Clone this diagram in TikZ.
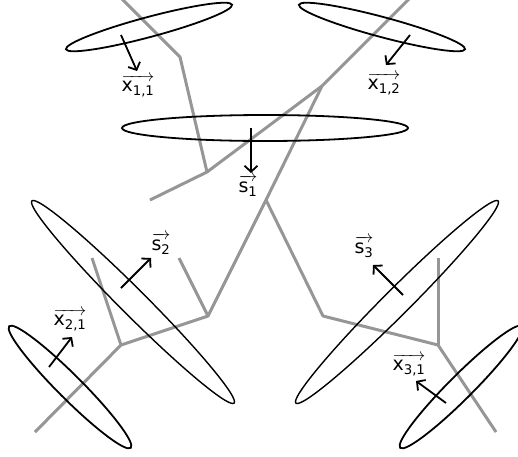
\documentclass[tikz,border=0pt]{standalone}
\usepackage{amsmath}
\usepackage{fontspec}
\setmainfont{DejaVu Sans}
\usetikzlibrary{arrows.meta}
\definecolor{treegray}{RGB}{150,150,150}
\tikzset{
  branch/.style={treegray, line width=3pt, line join=round},
  ell/.style={black, line width=1.8pt},
  ellthin/.style={black, line width=1.4pt},
  vecarrow/.style={line width=1.8pt, -{Straight Barb[length=6pt,width=13pt]}},
  veclabel/.style={inner sep=0pt, font=\fontsize{19}{22}\selectfont}
}
\newcommand{\vx}[1]{$\overrightarrow{\text{x}_{\text{#1}}}$}
\newcommand{\vs}[1]{$\overrightarrow{\text{s}_{\text{#1}}}$}
\begin{document}
\begin{tikzpicture}[x=1pt, y=-1pt]
    \useasboundingbox (0,0) rectangle (518,456);
    % Baum:
    \coordinate (root) at (266,200);
    \coordinate (a) at (322,86);
    \coordinate (a1) at (410,-2); % oben rechts
    \coordinate (b) at (207,172);
    \coordinate (b1) at (180,57);
    \coordinate (b2) at (121,-2); % oben links
    \coordinate (b3) at (150,200);
    \coordinate (c) at (208,316);
    \coordinate (c1) at (179,258);
    \coordinate (d) at (121,345);
    \coordinate (d1) at (92,258);
    \coordinate (d2) at (35,432);
    \coordinate (e) at (323,316);
    \coordinate (f) at (438,345);
    \coordinate (f1) at (438,258);
    \coordinate (f2) at (496,432);
    \draw[branch] (a1) -- (a) -- (root) -- (c) -- (d) -- (d2);
    \draw[branch] (a) -- (b) -- (b1) -- (b2);
    \draw[branch] (b) -- (b3);
    \draw[branch] (c1) -- (c);
    \draw[branch] (d1) -- (d);
    \draw[branch] (root) -- (e) -- (f) -- (f2);
    \draw[branch] (f1) -- (f);
    % Ellipsen:
    \draw[ell, shift={(149,27)}, rotate=15] (0,0) ellipse [x radius=86, y radius=10];
    \draw[ell, shift={(382,27)}, rotate=-15] (0,0) ellipse [x radius=86, y radius=10];
    \draw[ell] (265,128) ellipse [x radius=143, y radius=13];
    \draw[ellthin, shift={(133,302)}, rotate=-45] (0,0) ellipse [x radius=143, y radius=13];
    \draw[ellthin, shift={(397,302)}, rotate=45] (0,0) ellipse [x radius=143, y radius=13];
    \draw[ell, shift={(70,387)}, rotate=-45] (0,0) ellipse [x radius=86, y radius=12];
    \draw[ell, shift={(461,387)}, rotate=45] (0,0) ellipse [x radius=86, y radius=12];
    % Pfeile:
    \coordinate (x11s) at (121,35);  \coordinate (x11e) at (137,71);
    \coordinate (x12s) at (410,35);  \coordinate (x12e) at (386,65);
    \coordinate (s1s) at (251,128);  \coordinate (s1e) at (251,173);
    \coordinate (s2s) at (121,288);  \coordinate (s2e) at (151,258);
    \coordinate (x21s) at (49,367);  \coordinate (x21e) at (72,337);
    \coordinate (s3s) at (403,295);  \coordinate (s3e) at (373,265);
    \coordinate (x31s) at (446,403); \coordinate (x31e) at (416,381);
    \draw[vecarrow] (x11s) -- (x11e);
    \draw[vecarrow] (x12s) -- (x12e);
    \draw[vecarrow] (s1s) -- (s1e);
    \draw[vecarrow] (s2s) -- (s2e);
    \draw[vecarrow] (x21s) -- (x21e);
    \draw[vecarrow] (s3s) -- (s3e);
    \draw[vecarrow] (x31s) -- (x31e);
    % Beschriftungen:
    \node[veclabel] (lx11) at (138,86) {\vx{1,1}};
    \node[veclabel] (lx12) at (384,84) {\vx{1,2}};
    \node[veclabel] (ls1) at (248,186) {\vs{1}};
    \node[veclabel] (ls2) at (161,244) {\vs{2}};
    \node[veclabel] (lx21) at (70,320) {\vx{2,1}};
    \node[veclabel] (ls3) at (364,247) {\vs{3}};
    \node[veclabel] (lx31) at (409,365) {\vx{3,1}};
\end{tikzpicture}
\end{document}
